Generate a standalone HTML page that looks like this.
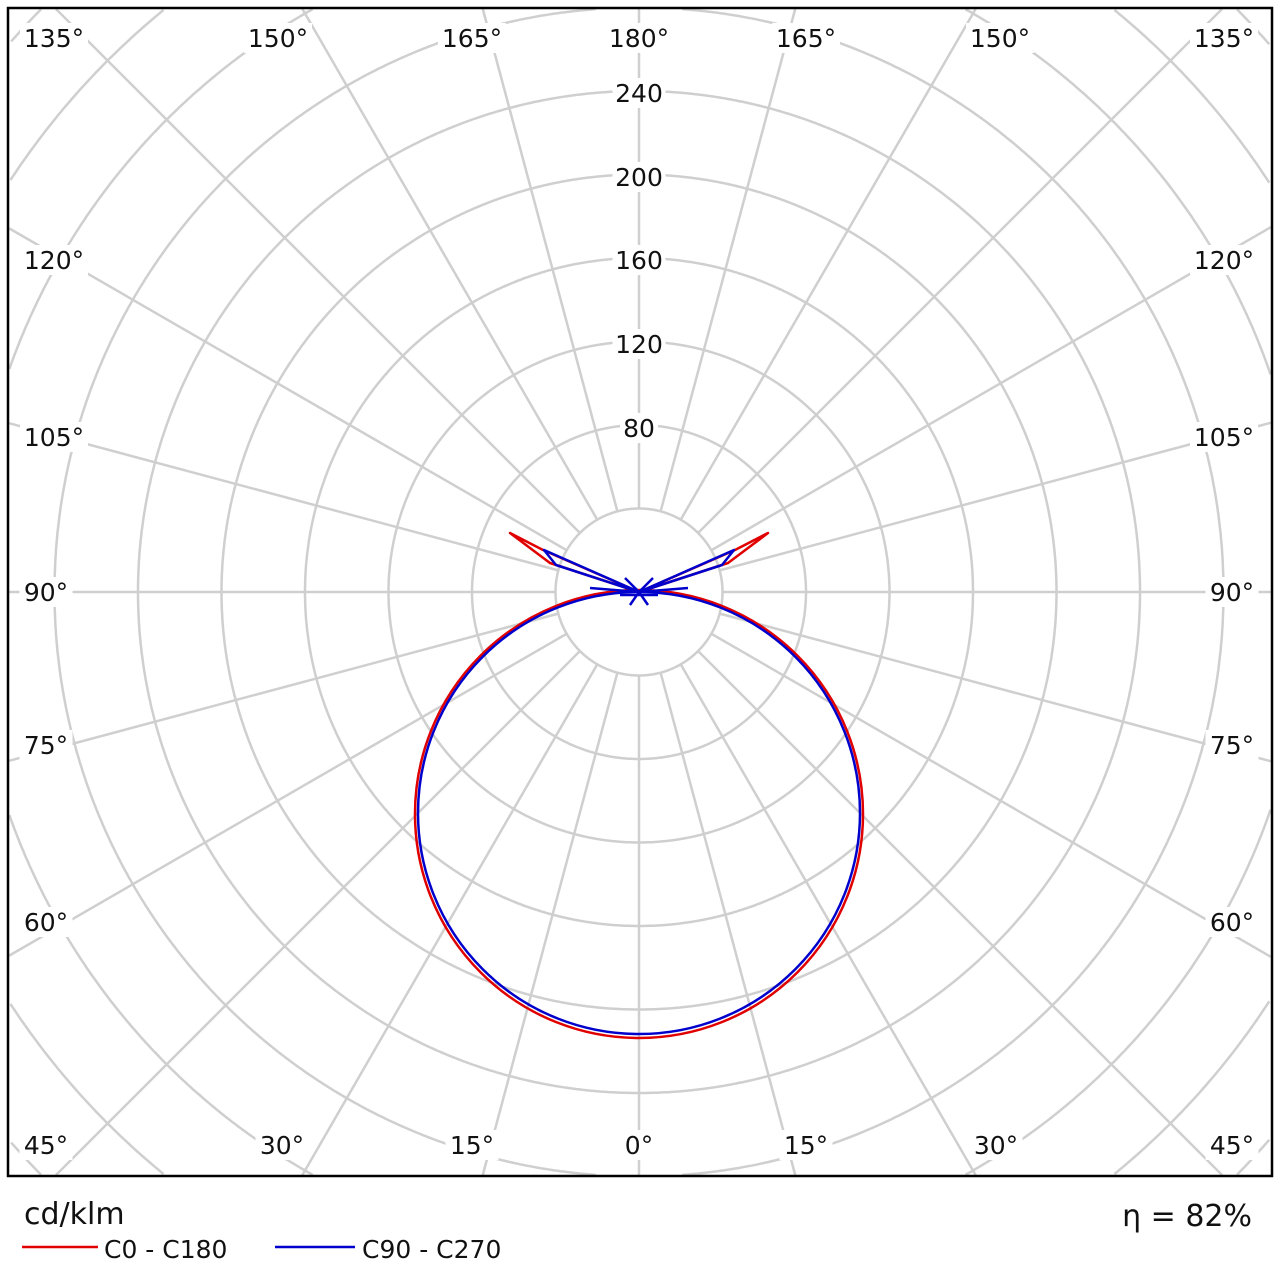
<!DOCTYPE html>
<html><head><meta charset="utf-8"><style>
html,body{margin:0;padding:0;background:#fff;width:1280px;height:1280px;overflow:hidden;}
svg{display:block;}
text{font-family:"DejaVu Sans","Liberation Sans",sans-serif;font-size:25px;fill:#111;}
</style></head><body>
<svg id="s" width="1280" height="1280" viewBox="0 0 1280 1280" xmlns="http://www.w3.org/2000/svg">
<g id="grid" stroke="#cfcfcf" stroke-width="2.5" fill="none"></g>
<g fill="none" stroke-width="2.5" stroke-linejoin="round">
<circle cx="639" cy="814" r="224" stroke="#e00000"/>
<polygon points="639,592 550,563 510,533 543,550" stroke="#e00000"/>
<polygon points="639,592 728,563 768,533 735,550" stroke="#e00000"/>
<circle cx="639" cy="813" r="221" stroke="#0000cc"/>
<polygon points="639,592 556,565 544,550" stroke="#0000cc"/>
<polygon points="639,592 722,565 734,550" stroke="#0000cc"/>
<path d="M590,588 L639,592 L688,588 M625,578 L639,592 L653,578 M630,605 L639,592 L648,605 M620,595 L658,595" stroke="#0000cc"/>
</g>
<g id="labels"></g>
<rect x="8" y="8" width="1264" height="1168" fill="none" stroke="#000" stroke-width="2.5"/>
<text x="24" y="1224" style="font-size:30px">cd/klm</text>
<text x="1252" y="1226" text-anchor="end" style="font-size:30px">η = 82%</text>
<line x1="22" y1="1247" x2="98" y2="1247" stroke="#e00000" stroke-width="2.5"/>
<text x="104" y="1258">C0 - C180</text>
<line x1="275" y1="1247" x2="355" y2="1247" stroke="#0000cc" stroke-width="2.5"/>
<text x="362" y="1258">C90 - C270</text>
</svg>
<script>
var NS="http://www.w3.org/2000/svg",g=document.getElementById("grid"),L=document.getElementById("labels");
var cx=639,cy=592,u=83.5,X0=9,X1=1271,Y0=9,Y1=1175;
function inside(x,y){return x>=X0&&x<=X1&&y>=Y0&&y<=Y1;}
for(var k=1;k<=10;k++){var R=k*u,d="",pen=false;
 for(var i=0;i<=1440;i++){var t=i/1440*2*Math.PI,x=cx+R*Math.cos(t),y=cy+R*Math.sin(t);
  if(inside(x,y)){d+=(pen?"L":"M")+x.toFixed(1)+","+y.toFixed(1);pen=true;}else pen=false;}
 var p=document.createElementNS(NS,"path");p.setAttribute("d",d);g.appendChild(p);}
for(var a=0;a<360;a+=15){var r=a*Math.PI/180,dx=Math.sin(r),dy=Math.cos(r),tm=1e9;
 if(dx>1e-9)tm=Math.min(tm,(X1-cx)/dx);if(dx<-1e-9)tm=Math.min(tm,(X0-cx)/dx);
 if(dy>1e-9)tm=Math.min(tm,(Y1-cy)/dy);if(dy<-1e-9)tm=Math.min(tm,(Y0-cy)/dy);
 var l=document.createElementNS(NS,"line");
 l.setAttribute("x1",cx+u*dx);l.setAttribute("y1",cy+u*dy);
 l.setAttribute("x2",cx+tm*dx);l.setAttribute("y2",cy+tm*dy);g.appendChild(l);}
function lab(t,x,y){var w=t.length*15+8;var b=document.createElementNS(NS,"rect");b.setAttribute("x",x-w/2);b.setAttribute("y",y-15);b.setAttribute("width",w);b.setAttribute("height",30);b.setAttribute("fill","#fff");L.appendChild(b);
var e=document.createElementNS(NS,"text");e.setAttribute("x",x);e.setAttribute("y",y+9);e.setAttribute("text-anchor","middle");e.textContent=t;L.appendChild(e);}
[["80",428],["120",344],["160",260],["200",177],["240",93]].forEach(function(p){lab(p[0],639,p[1]);});
[["135°",54,38],["150°",278,38],["165°",472,38],["180°",639,38],["165°",806,38],["150°",1000,38],["135°",1224,38],
["120°",54,260],["105°",54,437],["90°",46,592],["75°",46,745],["60°",46,922],
["120°",1224,260],["105°",1224,437],["90°",1232,592],["75°",1232,745],["60°",1232,922],
["45°",46,1145],["30°",282,1145],["15°",472,1145],["0°",639,1145],["15°",806,1145],["30°",996,1145],["45°",1232,1145]
].forEach(function(p){lab(p[0],p[1],p[2]);});
</script>
</body></html>
